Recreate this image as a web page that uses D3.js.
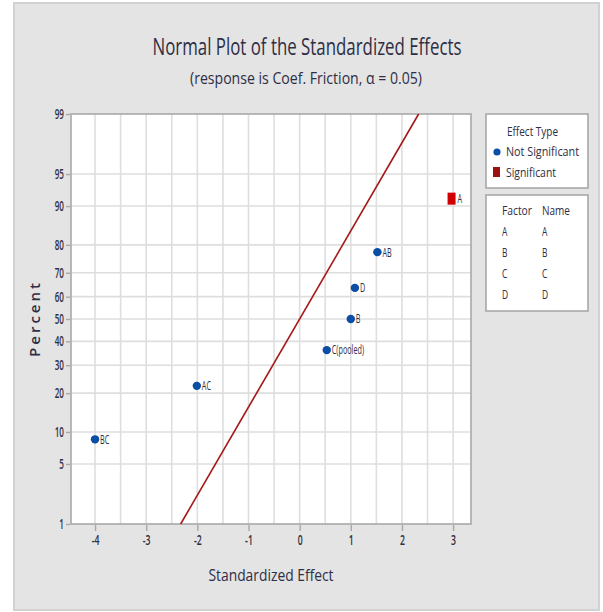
<!DOCTYPE html>
<html>
<head>
<meta charset="utf-8">
<script src="https://cdn.jsdelivr.net/npm/d3@7"></script>
<style>
  html, body { margin: 0; padding: 0; background: #ffffff; }
  svg { display: block; }
  text { font-family: "Open Sans", Roboto, sans-serif; fill: #2e2e44; }
</style>
</head>
<body>
<svg id="chart" width="603" height="612"></svg>
<script>
// Standardized effects, their normal-plot percents and effect types
const effects = ["BC", "AC", "C(pooled)", "B", "D", "AB", "A"];
const effectValues = [-4.0, -2.01, 0.53, 1.0, 1.08, 1.52, 2.97];
const effectPercents = [8.6, 22.4, 36.2, 50, 63.8, 77.6, 91.4];
const effectTypes = ["Not Significant", "Not Significant", "Not Significant", "Not Significant",
                     "Not Significant", "Not Significant", "Significant"];

// Axis ticks
const xTicks = [-4, -3, -2, -1, 0, 1, 2, 3];
const xGrid = [-4, -3.5, -3, -2.5, -2, -1.5, -1, -0.5, 0, 0.5, 1, 1.5, 2, 2.5, 3];
const yTicks = [1, 5, 10, 20, 30, 40, 50, 60, 70, 80, 90, 95, 99];

// Reference line end points (percent)
const refPercents = [1, 99];

// Legend tables
const typeNames = ["Not Significant", "Significant"];
const factorCodes = ["A", "B", "C", "D"];
const factorNames = ["A", "B", "C", "D"];

// Inverse standard normal CDF (Acklam)
function probit(p) {
  const a = [-3.969683028665376e+01, 2.209460984245205e+02, -2.759285104469687e+02, 1.383577518672690e+02, -3.066479806614716e+01, 2.506628277459239e+00];
  const b = [-5.447609879822406e+01, 1.615858368580409e+02, -1.556989798598866e+02, 6.680131188771972e+01, -1.328068155288572e+01];
  const c = [-7.784894002430293e-03, -3.223964580411365e-01, -2.400758277161838e+00, -2.549671664207860e+00, 4.374664141464968e+00, 2.938163982698783e+00];
  const d = [7.784695709041462e-03, 3.224671290700398e-01, 2.445134137142996e+00, 3.754408661907416e+00];
  const pl = 0.02425, ph = 1 - pl;
  let q, r;
  if (p < pl) {
    q = Math.sqrt(-2 * Math.log(p));
    return (((((c[0]*q+c[1])*q+c[2])*q+c[3])*q+c[4])*q+c[5]) / ((((d[0]*q+d[1])*q+d[2])*q+d[3])*q+1);
  }
  if (p <= ph) {
    q = p - 0.5; r = q * q;
    return (((((a[0]*r+a[1])*r+a[2])*r+a[3])*r+a[4])*r+a[5])*q / (((((b[0]*r+b[1])*r+b[2])*r+b[3])*r+b[4])*r+1);
  }
  q = Math.sqrt(-2 * Math.log(1 - p));
  return -(((((c[0]*q+c[1])*q+c[2])*q+c[3])*q+c[4])*q+c[5]) / ((((d[0]*q+d[1])*q+d[2])*q+d[3])*q+1);
}

// Squeeze text horizontally to a fraction of its natural width
function narrow(sel, f) {
  sel.each(function () {
    const w = this.getComputedTextLength();
    if (w > 0) d3.select(this).attr("textLength", w * f).attr("lengthAdjust", "spacingAndGlyphs");
  });
}

const svg = d3.select("#chart");

// Outer panel
svg.append("rect").attr("x", 14).attr("y", 3).attr("width", 585).attr("height", 607)
  .attr("fill", "#e4e4e4").attr("stroke", "#d2d2d2").attr("stroke-width", 2);

const plot = { left: 71, top: 114, right: 471, bottom: 524 };

const x = d3.scaleLinear().domain([-4.47, 3.35]).range([plot.left, plot.right]);
const z = d3.scaleLinear().domain([probit(0.01), probit(0.99)]).range([plot.bottom, plot.top]);
const y = p => z(probit(p / 100));

// Plot area
svg.append("rect").attr("x", plot.left).attr("y", plot.top)
  .attr("width", plot.right - plot.left).attr("height", plot.bottom - plot.top)
  .attr("fill", "#ffffff");

// Grid
const grid = svg.append("g").attr("stroke", "#dedede").attr("stroke-width", 1.6);
grid.selectAll("line.v").data(xGrid).join("line").attr("class", "v")
  .attr("x1", d => x(d)).attr("x2", d => x(d)).attr("y1", plot.top).attr("y2", plot.bottom);
grid.selectAll("line.h").data(yTicks.filter(d => d > 1 && d < 99)).join("line").attr("class", "h")
  .attr("x1", plot.left).attr("x2", plot.right).attr("y1", d => y(d)).attr("y2", d => y(d));

// Frame
svg.append("rect").attr("x", plot.left).attr("y", plot.top)
  .attr("width", plot.right - plot.left).attr("height", plot.bottom - plot.top)
  .attr("fill", "none").attr("stroke", "#a8a8a8").attr("stroke-width", 1.6);

// X axis
const xAxis = svg.append("g").attr("transform", `translate(0,${plot.bottom + 1})`)
  .call(d3.axisBottom(x).tickValues(xTicks).tickSize(6).tickPadding(4).tickFormat(d => String(d)));
xAxis.select(".domain").remove();
xAxis.selectAll(".tick line").attr("stroke", "#a8a8a8").attr("stroke-width", 1.4);
xAxis.selectAll(".tick text").attr("font-size", 14).attr("font-weight", 600).style("font-family", null)
  .attr("fill", "#2e2e48")
  .call(narrow, 0.62);

// Y axis (normal probability scale)
const yAxis = svg.append("g").attr("transform", `translate(${plot.left - 1},0)`)
  .call(d3.axisLeft(d3.scaleIdentity()).tickValues(yTicks.map(y)).tickSize(4).tickPadding(2)
    .tickFormat((d, i) => yTicks[i]));
yAxis.select(".domain").remove();
yAxis.selectAll(".tick line").attr("stroke", "#a8a8a8").attr("stroke-width", 1.4);
yAxis.selectAll(".tick text").attr("font-size", 13.5).attr("font-weight", 600).style("font-family", null)
  .attr("fill", "#2e2e48")
  .call(narrow, 0.6);

// Reference line
const refLine = d3.line().x(p => x(probit(p / 100))).y(p => y(p));
svg.append("path").datum(refPercents).attr("d", refLine)
  .attr("fill", "none").attr("stroke", "#a51818").attr("stroke-width", 1.6);

// Points
const pts = effects.map((e, i) => ({ name: e, v: effectValues[i], p: effectPercents[i], type: effectTypes[i] }));
const dot = d3.symbol().type(d3.symbolCircle).size(56);

svg.selectAll("path.pt").data(pts.filter(d => d.type === "Not Significant")).join("path")
  .attr("class", "pt").attr("d", dot)
  .attr("transform", d => `translate(${x(d.v)},${y(d.p)})`)
  .attr("fill", "#0a4ea6");
svg.selectAll("rect.pt").data(pts.filter(d => d.type === "Significant")).join("rect")
  .attr("class", "pt")
  .attr("x", d => x(d.v) - 4).attr("y", d => y(d.p) - 6).attr("width", 8).attr("height", 12)
  .attr("fill", "#d00000");

svg.selectAll("text.pl").data(pts).join("text").attr("class", "pl")
  .attr("x", d => x(d.v) + (d.type === "Significant" ? 6 : 5)).attr("y", d => y(d.p))
  .attr("dy", "0.35em").attr("font-size", 12.5).attr("fill", "#5a5a6a")
  .text(d => d.name)
  .call(narrow, 0.58);

// Titles
svg.append("text").attr("x", 307).attr("y", 55).attr("text-anchor", "middle")
  .attr("font-size", 23).attr("fill", "#26263a")
  .attr("textLength", 309).attr("lengthAdjust", "spacingAndGlyphs")
  .text("Normal Plot of the Standardized Effects");
svg.append("text").attr("x", 306).attr("y", 84).attr("text-anchor", "middle")
  .attr("font-size", 16).attr("fill", "#26263a")
  .attr("textLength", 232).attr("lengthAdjust", "spacingAndGlyphs")
  .text("(response is Coef. Friction, α = 0.05)");

svg.append("text").attr("x", 271).attr("y", 581).attr("text-anchor", "middle")
  .attr("font-size", 17).attr("fill", "#26263a")
  .attr("textLength", 125).attr("lengthAdjust", "spacingAndGlyphs")
  .text("Standardized Effect");

svg.append("text").attr("transform", "translate(40,320) rotate(-90)").attr("text-anchor", "middle")
  .attr("font-size", 15).attr("font-weight", 600).attr("fill", "#26263a")
  .attr("textLength", 74).attr("lengthAdjust", "spacing")
  .text("Percent");

// Legend: effect type
const lg1 = svg.append("g");
lg1.append("rect").attr("x", 486).attr("y", 114).attr("width", 102).attr("height", 74)
  .attr("fill", "#ffffff").attr("stroke", "#a8a8a8").attr("stroke-width", 1.6);
lg1.append("text").attr("x", 507).attr("y", 131).attr("dy", "0.35em").attr("font-size", 13)
  .attr("textLength", 51).attr("lengthAdjust", "spacingAndGlyphs").text("Effect Type");
typeNames.forEach((t, i) => {
  const yy = 151 + i * 21;
  if (t === "Significant") {
    lg1.append("rect").attr("x", 493).attr("y", yy - 5).attr("width", 7).attr("height", 10).attr("fill", "#9c1010");
  } else {
    lg1.append("path").attr("d", d3.symbol().type(d3.symbolCircle).size(40)())
      .attr("transform", `translate(497,${yy + 1})`).attr("fill", "#0a4ea6");
  }
  lg1.append("text").attr("x", 506).attr("y", yy).attr("dy", "0.35em").attr("font-size", 13)
    .attr("textLength", t === "Significant" ? 50 : 73).attr("lengthAdjust", "spacingAndGlyphs").text(t);
});

// Legend: factor names
const lg2 = svg.append("g");
lg2.append("rect").attr("x", 486).attr("y", 195).attr("width", 102).attr("height", 116)
  .attr("fill", "#ffffff").attr("stroke", "#a8a8a8").attr("stroke-width", 1.6);
lg2.append("text").attr("x", 502).attr("y", 210).attr("dy", "0.35em").attr("font-size", 13)
  .attr("textLength", 30).attr("lengthAdjust", "spacingAndGlyphs").text("Factor");
lg2.append("text").attr("x", 542).attr("y", 210).attr("dy", "0.35em").attr("font-size", 13)
  .attr("textLength", 28).attr("lengthAdjust", "spacingAndGlyphs").text("Name");
factorCodes.forEach((f, i) => {
  const yy = 231 + i * 21;
  lg2.append("text").attr("x", 502).attr("y", yy).attr("dy", "0.35em").attr("font-size", 13).text(f)
    .call(narrow, 0.65);
  lg2.append("text").attr("x", 542).attr("y", yy).attr("dy", "0.35em").attr("font-size", 13).text(factorNames[i])
    .call(narrow, 0.65);
});
</script>
</body>
</html>
